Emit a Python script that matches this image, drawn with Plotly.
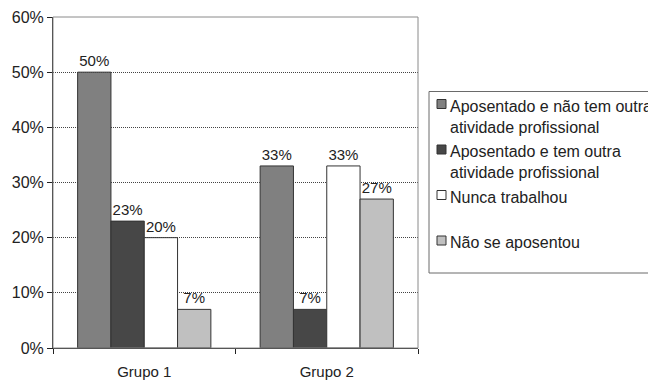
import plotly.graph_objects as go

# Categories and series (percent of respondents)
groups = ["Grupo 1", "Grupo 2"]
series_names = [
    "Aposentado e não tem outra atividade profissional",
    "Aposentado e tem outra atividade profissional",
    "Nunca trabalhou",
    "Não se aposentou",
]
legend_labels = [
    "Aposentado e não tem outra<br>atividade profissional",
    "Aposentado e tem outra<br>atividade profissional",
    "Nunca trabalhou",
    "Não se aposentou",
]
values = [
    [50, 33],
    [23, 7],
    [20, 33],
    [7, 27],
]
colors = ["#808080", "#474747", "#ffffff", "#c0c0c0"]
y_ticks = [0, 10, 20, 30, 40, 50, 60]

W, H = 648, 380
ML, MR, MT, MB = 53, 230, 17, 32
PW, PH = W - ML - MR, H - MT - MB
FONT = "Liberation Sans, Arial, sans-serif"


def px_x(px):
    return (px - ML) / PW


def px_y(py):
    return (H - MB - py) / PH


fig = go.Figure()
for name, vals, col in zip(series_names, values, colors):
    fig.add_trace(go.Bar(
        x=groups,
        y=[v / 100 for v in vals],
        name=name,
        marker=dict(color=col, line=dict(color="#333333", width=1)),
        text=[f"{v}%" for v in vals],
        textposition="outside",
        textfont=dict(size=15, color="#222222", family=FONT),
        cliponaxis=False,
        showlegend=False,
    ))

shapes = [
    # plot frame
    dict(type="rect", xref="paper", yref="paper", x0=0, y0=0, x1=1, y1=1,
         line=dict(color="#8a8a8a", width=1), layer="above"),
    # legend box
    dict(type="rect", xref="paper", yref="paper",
         x0=px_x(429), x1=px_x(700), y0=px_y(91.5), y1=px_y(273),
         line=dict(color="#6a6a6a", width=1), fillcolor="rgba(0,0,0,0)"),
]
annotations = []
item_top = 95.5
item_step = 45.5
for i, (label, col) in enumerate(zip(legend_labels, colors)):
    cy = item_top + 10.5 + item_step * i
    shapes.append(dict(
        type="rect", xref="paper", yref="paper",
        x0=px_x(437), x1=px_x(446), y0=px_y(cy - 6.5), y1=px_y(cy + 2.5),
        fillcolor=col, line=dict(color="#333333", width=1),
    ))
    annotations.append(dict(
        text=label, xref="paper", yref="paper",
        x=px_x(447.5), y=px_y(item_top + item_step * i),
        xanchor="left", yanchor="top", align="left", showarrow=False,
        font=dict(size=16, color="#222222", family=FONT),
    ))

fig.update_layout(
    width=W, height=H,
    margin=dict(l=ML, r=MR, t=MT, b=MB, pad=0, autoexpand=False),
    paper_bgcolor="white", plot_bgcolor="white",
    barmode="group", bargap=0.27, bargroupgap=0,
    font=dict(family=FONT, size=15, color="#222222"),
    shapes=shapes, annotations=annotations,
)
fig.update_xaxes(
    automargin=False,
    showline=True, linecolor="#222222", linewidth=1,
    ticks="outside", ticklen=5, tickcolor="#222222",
    tickson="boundaries", showgrid=False,
    ticklabelstandoff=10,
    tickfont=dict(size=15, color="#222222"),
)
fig.update_yaxes(
    automargin=False,
    range=[0, 0.6], tickvals=[t / 100 for t in y_ticks],
    ticktext=[f"{t}%" for t in y_ticks],
    showline=True, linecolor="#222222", linewidth=1,
    ticks="outside", ticklen=5, tickcolor="#222222",
    showgrid=True, gridcolor="#444444", griddash="1px,1px", gridwidth=1,
    zeroline=False,
    tickfont=dict(size=16, color="#222222"),
)

fig.write_html("out.html")
